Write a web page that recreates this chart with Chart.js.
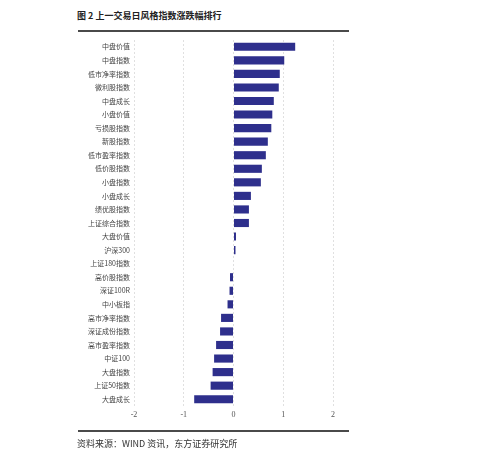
<!DOCTYPE html>
<html>
<head>
<meta charset="utf-8">
<script src="https://cdn.jsdelivr.net/npm/chart.js@4.4.1/dist/chart.umd.min.js"></script>
<style>
  html, body { margin: 0; padding: 0; background: #fff; }
  #wrap { position: relative; width: 500px; height: 457px; overflow: hidden; }
  #chartBox { position: absolute; left: 0; top: 0; width: 500px; height: 457px; }
  .title {
    position: absolute; left: 77px; top: 9px;
    font-family: "Noto Sans CJK SC", sans-serif; font-size: 9px; font-weight: bold; color: #222;
  }
  .rule { position: absolute; left: 78px; width: 271px; height: 2px; background: #4a4a4a; }
  .source {
    position: absolute; left: 77px; top: 437px;
    font-family: "Noto Sans CJK SC", sans-serif; font-size: 9px; color: #333;
  }
</style>
</head>
<body>
<div id="wrap">
  <div class="title">图 2 上一交易日风格指数涨跌幅排行</div>
  <div class="rule" style="top:30px"></div>
  <div id="chartBox"><canvas id="styleChart"></canvas></div>
  <div class="rule" style="top:430px"></div>
  <div class="source">资料来源：WIND 资讯，东方证券研究所</div>
</div>
<script>
// 风格指数名称（从上到下）
const categories = [
  "中盘价值", "中盘指数", "低市净率指数", "微利股指数", "中盘成长",
  "小盘价值", "亏损股指数", "新股指数", "低市盈率指数", "低价股指数",
  "小盘指数", "小盘成长", "绩优股指数", "上证综合指数", "大盘价值",
  "沪深300", "上证180指数", "高价股指数", "深证100R", "中小板指",
  "高市净率指数", "深证成份指数", "高市盈率指数", "中证100", "大盘指数",
  "上证50指数", "大盘成长"
];

// 涨跌幅 (%)
const changes = [
  1.24, 1.02, 0.93, 0.91, 0.81,
  0.78, 0.76, 0.69, 0.65, 0.57,
  0.55, 0.35, 0.31, 0.31, 0.05,
  0.04, 0.01, -0.07, -0.08, -0.12,
  -0.25, -0.27, -0.35, -0.39, -0.42,
  -0.46, -0.79
];

const xTicks = [-2, -1, 0, 1, 2];

const ctx = document.getElementById("styleChart").getContext("2d");
new Chart(ctx, {
  type: "bar",
  data: {
    labels: categories,
    datasets: [
      {
        data: changes,
        backgroundColor: "#2e2f8c",
        categoryPercentage: 1,
        barPercentage: 0.6,
      },
    ],
  },
  options: {
    indexAxis: "y",
    responsive: true,
    maintainAspectRatio: false,
    animation: false,
    layout: { padding: { left: 0, right: 167, top: 40, bottom: 31 } },
    plugins: {
      legend: { display: false },
      tooltip: { enabled: false },
    },
    scales: {
      x: {
        min: xTicks[0],
        max: xTicks[xTicks.length - 1],
        afterFit: (scale) => { scale.height = 20; },
        border: { display: false, dash: [2, 2] },
        grid: {
          color: "#e0e0e0",
          lineWidth: 1,
          drawTicks: false,
        },
        ticks: {
          stepSize: 1,
          padding: 4,
          color: "#555",
          font: { family: "'Liberation Serif', serif", size: 8 },
        },
      },
      y: {
        afterFit: (scale) => { scale.width = 134; },
        border: { display: false },
        grid: { display: false, drawTicks: false },
        ticks: {
          padding: 4,
          autoSkip: false,
          color: "#444",
          font: { family: "'Noto Sans CJK SC', sans-serif", size: 7 },
        },
      },
    },
  },
});
</script>
</body>
</html>
